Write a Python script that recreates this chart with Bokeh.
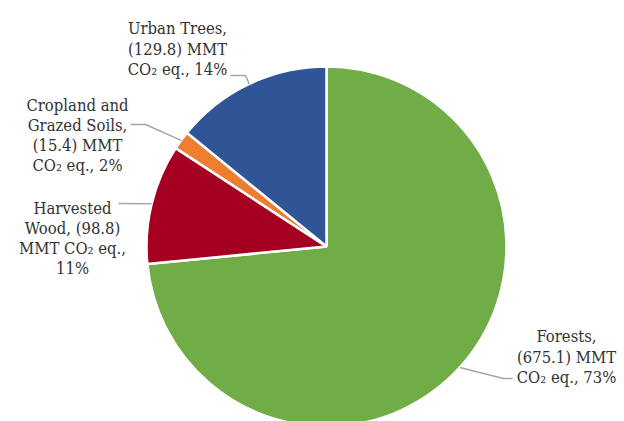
import numpy as np
from bokeh.plotting import figure
from bokeh.models import Range1d, ColumnDataSource
from bokeh.core.properties import value
from bokeh.embed import file_html
from bokeh.resources import INLINE

# ---- data ----
categories = ["Forests", "Harvested Wood", "Cropland and Grazed Soils", "Urban Trees"]
values = [675.1, 98.8, 15.4, 129.8]          # MMT CO2 eq.
percents = [73, 11, 2, 14]
colors = ["#70AD47", "#A50021", "#ED7D31", "#2F5597"]
label_lines = [
    ["Forests,", "(675.1) MMT", "CO₂ eq., 73%"],
    ["Harvested", "Wood, (98.8)", "MMT CO₂ eq.,", "11%"],
    ["Cropland and", "Grazed Soils,", "(15.4) MMT", "CO₂ eq., 2%"],
    ["Urban Trees,", "(129.8) MMT", "CO₂ eq., 14%"],
]

# ---- layout (pixels, y measured downward from top) ----
W, H = 624, 421
CX, CY, R = 326, 246, 180
label_pos = [(566, 336, 20.5), (72, 208, 20.0), (77, 105, 20.0), (177, 28, 20.7)]
leader_tail = [[(503, 378), (512, 378)], [(118, 203)], [(145, 124), (130, 124)], [(245, 75), (230, 75)]]

p = figure(width=W, height=H, x_range=Range1d(0, W), y_range=Range1d(0, H),
           output_backend="svg", toolbar_location=None, min_border=0,
           x_axis_type=None, y_axis_type=None)
p.outline_line_color = None
p.xgrid.visible = False
p.ygrid.visible = False
p.background_fill_color = "white"
p.border_fill_color = "white"

vals = np.array(values)
total = vals.sum()
cum_end = np.cumsum(vals) / total
cum_start = cum_end - vals / total
start_angles = np.pi / 2 - 2 * np.pi * cum_end
end_angles = np.pi / 2 - 2 * np.pi * cum_start
mid = (start_angles + end_angles) / 2

cy_data = H - CY
src = ColumnDataSource(dict(start=start_angles, end=end_angles, color=colors, cat=categories))
p.wedge(x=CX, y=cy_data, radius=R, start_angle="start", end_angle="end",
        fill_color="color", line_color="white", line_width=2.5, source=src)

# leader lines
xs, ys = [], []
for i in range(len(values)):
    ax = CX + R * np.cos(mid[i])
    ay = cy_data + R * np.sin(mid[i])
    lx = [ax] + [pt[0] for pt in leader_tail[i]]
    ly = [ay] + [H - pt[1] for pt in leader_tail[i]]
    xs.append(lx)
    ys.append(ly)
p.multi_line(xs=xs, ys=ys, line_color="#A6A6A6", line_width=1.5)

# labels
tx, ty, tt = [], [], []
for i, lines in enumerate(label_lines):
    cx, by, pitch = label_pos[i]
    for j, s in enumerate(lines):
        tx.append(cx)
        ty.append(H - (by + j * pitch))
        tt.append(s)
p.text(x=tx, y=ty, text=tt, text_align="center", text_baseline="alphabetic",
       text_font=value("DejaVu Serif Condensed"),
       text_font_size="16.5px", text_color="#333333")

open("out.html", "w").write(file_html(p, INLINE))
